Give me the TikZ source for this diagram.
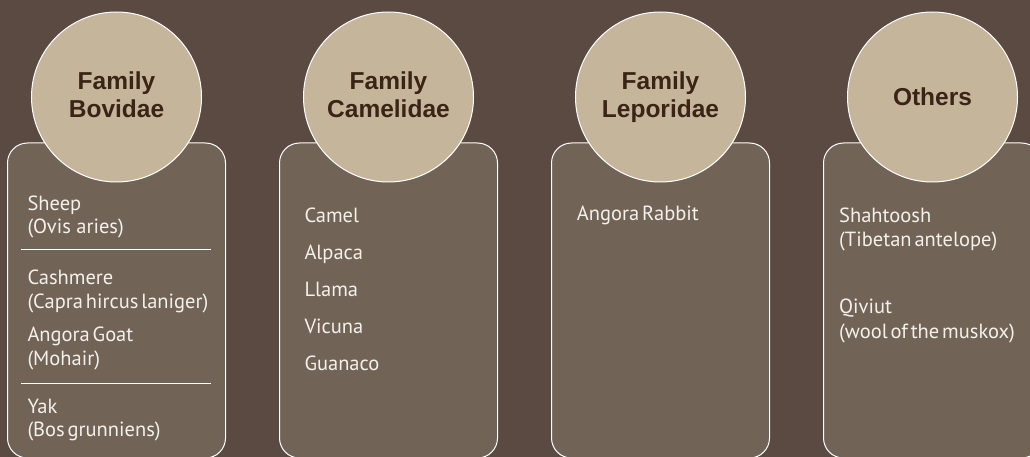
\documentclass[tikz,border=0pt]{standalone}
\usepackage{fontspec}
\setmainfont{PT Sans}
\newfontfamily\titlefont{Liberation Sans}
\definecolor{bgc}{HTML}{5A4A42}
\definecolor{boxc}{HTML}{716457}
\definecolor{circc}{HTML}{C4B59B}
\definecolor{titlec}{HTML}{3B2416}
\definecolor{txtc}{HTML}{F4F0EA}
\newcommand\myitemfont{\fontsize{20.5}{22}\selectfont}
\newcommand\tsp{\hspace{0.14em}}
\tikzset{
  panel/.style={draw=white, line width=1pt, fill=boxc, rounded corners=20pt},
  badge/.style={circle, draw=white, line width=1pt, fill=circc, minimum size=170pt, inner sep=0pt,
    font=\titlefont\fontsize{24.5}{28.6}\selectfont\bfseries, text=titlec, align=center},
  item/.style={anchor=base west, inner sep=0pt, text=txtc, font=\myitemfont},
  sep/.style={draw=white, line width=1pt}
}
\begin{document}
\begin{tikzpicture}[x=1pt,y=-1pt]
\useasboundingbox (0,0) rectangle (1030,457);
\fill[bgc] (0,0) rectangle (1030,457);
% panels
\draw[panel] (7.5,143) rectangle (225.5,458);
\draw[panel] (279.5,143) rectangle (497.5,458);
\draw[panel] (551.5,143) rectangle (769.5,458);
\draw[panel] (823.5,143) rectangle (1041.5,458);
% badges
\node[badge] (b1) at (116.5,97) {Family\\Bovidae\vphantom{p}};
\node[badge] (b2) at (388.5,97) {Family\\Camelidae\vphantom{p}};
\node[badge] (b3) at (660.5,97) {Family\\Leporidae};
\node[badge] (b4) at (932.5,97) {Others};
% column 1
\node[item] (s1) at (27.3,211) {Sheep};
\node[item] (s2) at (27.3,233.5) {(Ovis aries)};
\coordinate (l1a) at (21,249.5); \coordinate (l1b) at (210.5,249.5);
\draw[sep] (l1a) -- (l1b);
\node[item] (c1) at (27.3,284) {Cashmere};
\node[item] (c2) at (27.3,308.5) {(Capra\tsp hircus\tsp laniger)};
\node[item] (g1) at (27.3,341.5) {Angora\tsp Goat};
\node[item] (g2) at (27.3,365) {(Mohair)};
\coordinate (l2a) at (21,383.5); \coordinate (l2b) at (210.5,383.5);
\draw[sep] (l2a) -- (l2b);
\node[item] (y1) at (27.3,413.3) {Yak};
\node[item] (y2) at (27.3,436.7) {(Bos\tsp grunniens)};
% column 2
\node[item] (m1) at (304.3,222.7) {Camel};
\node[item] (m2) at (304.3,259.3) {Alpaca};
\node[item] (m3) at (304.3,296.5) {Llama};
\node[item] (m4) at (304.3,333.3) {Vicuna};
\node[item] (m5) at (304.3,370) {Guanaco};
% column 3
\node[item] (r1) at (576.7,220.7) {Angora\tsp Rabbit};
% column 4
\node[item] (o1) at (839,222.7) {Shahtoosh};
\node[item] (o2) at (839,246.7) {(Tibetan\tsp antelope)};
\node[item] (o3) at (839,313.3) {Qiviut};
\node[item] (o4) at (839,338.3) {(wool\tsp of\tsp the\tsp muskox)};
\end{tikzpicture}
\end{document}
